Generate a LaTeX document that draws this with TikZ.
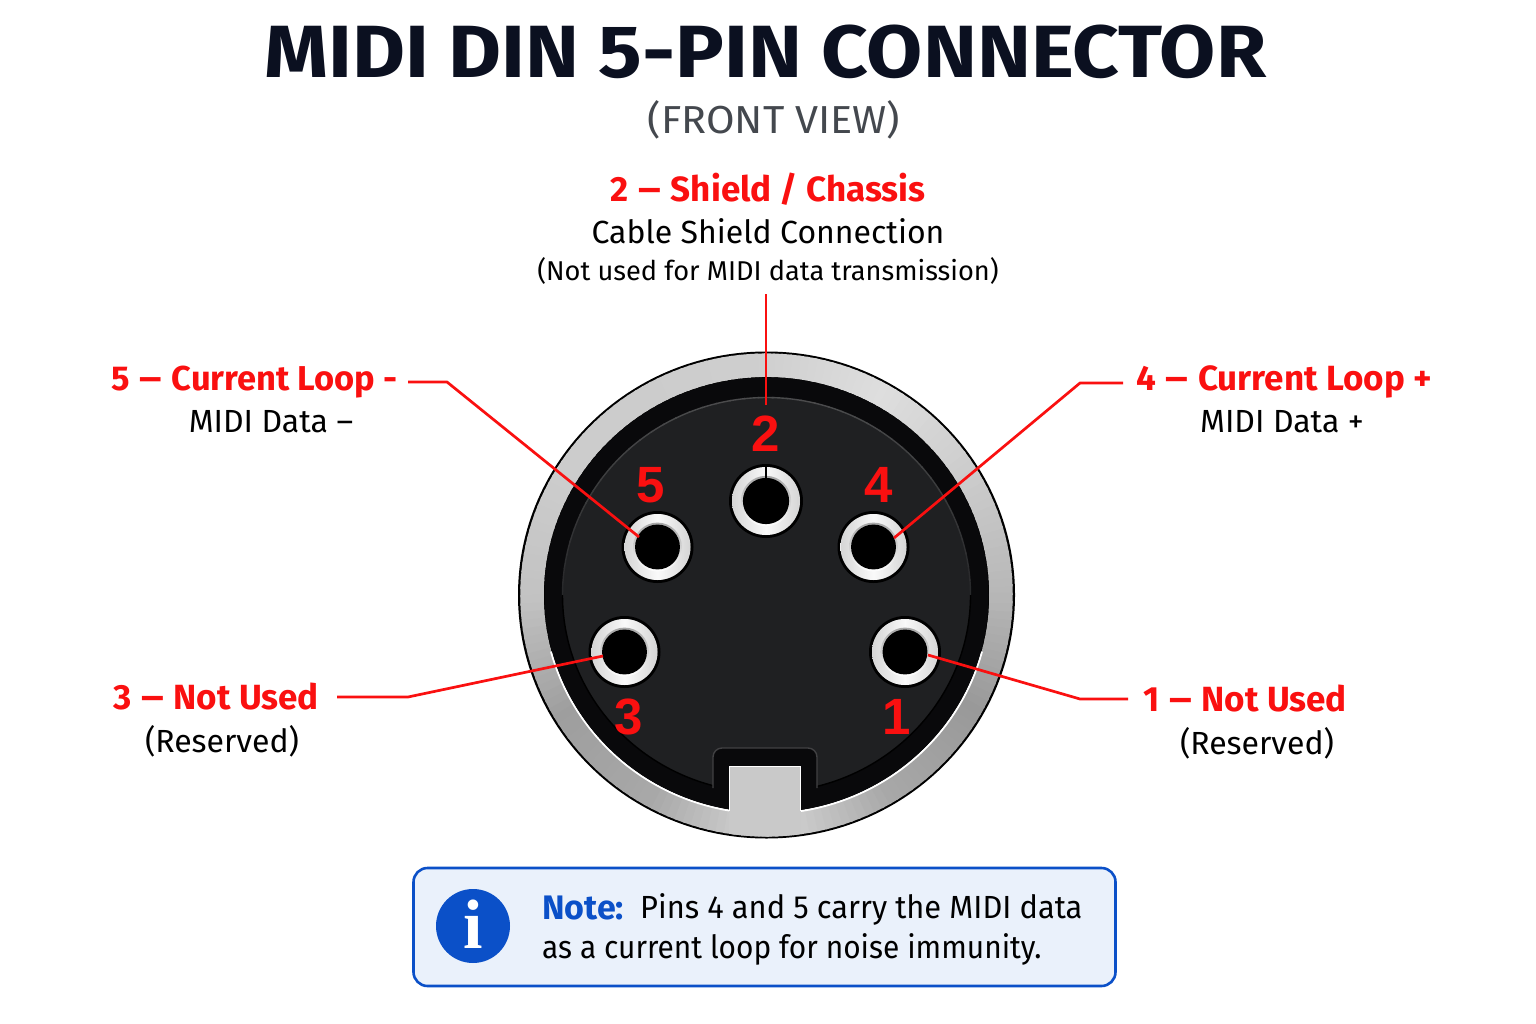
\documentclass[tikz,border=0pt]{standalone}
\usepackage{fontspec}
\usepackage{graphicx}
\setmainfont{Fira Sans}
\definecolor{pinred}{HTML}{FA1010}
\definecolor{ink}{HTML}{0B1020}
\definecolor{sub}{HTML}{44484E}
\definecolor{notebl}{HTML}{0B50C8}
\definecolor{notebg}{HTML}{EAF1FB}
\definecolor{face}{HTML}{1F2022}
\definecolor{rim}{HTML}{09090B}
\tikzset{
  leader/.style={draw=pinred,line width=2.7pt,line join=round},
  head/.style={font=\fontsize{35}{40}\selectfont\bfseries,text=pinred,inner sep=0pt,anchor=center},
  body/.style={font=\fontsize{32}{36}\selectfont,text=black,inner sep=0pt,anchor=center},
  small/.style={font=\fontsize{27.2}{32}\selectfont,text=black,inner sep=0pt,anchor=center},
  pinnum/.style={font=\fontsize{51}{51}\fontspec{Liberation Sans}\bfseries,text=pinred,inner sep=0pt,anchor=center},
  notetxt/.style={font=\fontsize{32}{36}\selectfont,text=black,inner sep=0pt,anchor=west},
}
\newcommand{\dsh}{\hspace{.28em}\scalebox{1.25}[1]{–}\hspace{.28em}}
\newcommand{\pinsock}[4]{% name, x, y, metal radius
  \fill[black] (#2,-#3) circle[radius=#4+3];
  \shade[shading=axis,shading angle=0,top color=gray!5,middle color=gray!45,bottom color=gray!3] (#2,-#3) circle[radius=#4];
  \shade[left color=gray!75,right color=gray!75,middle color=gray!5,opacity=.4] (#2,-#3) circle[radius=#4];
  \shade[top color=gray!70,bottom color=white] (#2,-#3) circle[radius=#4*0.74];
  \node[circle,fill=black,minimum size=#4*1.36,inner sep=0pt] (#1) at (#2,-#3) {};
}
\begin{document}
\begin{tikzpicture}[x=1pt,y=1pt]
\useasboundingbox (0,0) rectangle (1536,-1024);
\fill[white] (0,0) rectangle (1536,-1024);
% titles
\node[font=\fontsize{74}{80}\selectfont\bfseries,text=ink,inner sep=0pt] (title) at (765.5,-52) {\scalebox{1.1}[1]{MIDI DIN 5-PIN CONNECTOR}};
\node[font=\fontsize{39}{40}\selectfont,text=sub,inner sep=0pt] (subtitle) at (774,-120) {\scalebox{1.06}[1]{(FRONT VIEW)}};
% connector body
\begin{scope}[shift={(766.5,-595)}]
  \fill[black] (0,0) ellipse[x radius=248.5,y radius=243.5];
  \begin{scope}[yscale=0.98]
    \foreach \a in {0,2,...,358}{
      \pgfmathsetmacro{\ii}{int(floor(\a/30))}
      \pgfmathsetmacro{\jj}{int(mod(\ii+1,12))}
      \pgfmathsetmacro{\ff}{(\a-30*\ii)/30}
      \pgfmathsetmacro{\ga}{{.72,.80,.87,.81,.80,.80,.76,.62,.66,.84,.66,.60}[\ii]}
      \pgfmathsetmacro{\gb}{{.72,.80,.87,.81,.80,.80,.76,.62,.66,.84,.66,.60}[\jj]}
      \pgfmathsetmacro{\g}{\ga+(\gb-\ga)*\ff}
      \definecolor{seg}{gray}{\g}
      \draw[seg,line width=23.5pt] (\a:234.5) arc[start angle=\a,end angle=\a+2.6,radius=234.5];
    }
    \draw[white,line width=2pt] (-15:223) arc[start angle=-15,end angle=-165,radius=223];
  \end{scope}
  \fill[rim] (0,0) ellipse[x radius=222,y radius=217.5];
  \fill[face] (0,0) ellipse[x radius=204,y radius=197.5];
  \foreach \a in {0,4,...,176}{
    \pgfmathsetmacro{\m}{8+38*sin(\a+2)}
    \colorlet{edgec}{gray!\m!face}
    \draw[edgec,line width=1.4pt] (\a:204 and 197.5) arc[start angle=\a,end angle=\a+4.5,x radius=204,y radius=197.5];
  }
  \draw[black,line width=1.4pt] (180:204 and 197.5) arc[start angle=180,end angle=360,x radius=204,y radius=197.5];
\end{scope}
% key recess
\fill[rim] (714,-790) rectangle (816,-805);
\fill[rim,draw=gray!35!face,line width=1.4pt,rounded corners=9pt] (713,-788) -- (713,-748) -- (817,-748) -- (817,-788);
\fill[rim] (714,-786) rectangle (816,-790);
% key tab
\begin{scope}
  \clip (766.5,-595) ellipse[x radius=246.5,y radius=241.5];
  \shade[left color=gray!42,middle color=gray!20,right color=gray!42] (729.5,-767) rectangle (800.5,-840);
\end{scope}
\draw[white,line width=1.8pt] (729.5,-810.5) -- (729.5,-766.5) -- (800.5,-766.5) -- (800.5,-810.5);
% pins
\pinsock{p2}{766}{501}{34}
\pinsock{p5}{657.5}{547}{33}
\pinsock{p4}{873.5}{547}{33}
\pinsock{p3}{624.5}{652}{33}
\pinsock{p1}{905}{652}{33}
% pin numbers
\node[pinnum] (n2) at (766,-434) {2};
\node[pinnum] (n5) at (651,-485) {5};
\node[pinnum] (n4) at (879,-485) {4};
\node[pinnum] (n3) at (629,-717) {3};
\node[pinnum] (n1) at (897,-717) {1};
% labels
\node[head] (l2) at (768,-189) {2\dsh Shield / Chassis};
\node[body] (l2a) at (768,-231) {Cable Shield Connection};
\node[small] (l2b) at (768,-270.5) {(Not used for MIDI data transmission)};
\node[head,anchor=east,font=\fontsize{34.5}{40}\selectfont\bfseries] (l5) at (398,-382) {5\dsh Current Loop -};
\node[body] (l5a) at (271,-422) {MIDI Data –};
\node[head,anchor=west] (l4) at (1136,-382) {4\dsh Current Loop +};
\node[body] (l4a) at (1282,-422) {MIDI Data +};
\node[head] (l3) at (216,-697) {3\dsh Not Used};
\node[body] (l3a) at (222,-741) {(Reserved)};
\node[head] (l1) at (1245,-699) {1\dsh Not Used};
\node[body] (l1a) at (1257,-743) {(Reserved)};
% leaders
\coordinate (c2a) at (766,-294);
\coordinate (c2b) at (766,-405);
\coordinate (c5a) at (408,-382);
\coordinate (c5b) at (447,-382);
\coordinate (c5c) at (639,-537);
\coordinate (c4a) at (1123,-383);
\coordinate (c4b) at (1080,-383);
\coordinate (c4c) at (894,-538);
\coordinate (c3a) at (337,-697);
\coordinate (c3b) at (408,-697);
\coordinate (c3c) at (603,-656);
\coordinate (c1a) at (1128,-699);
\coordinate (c1b) at (1080,-699);
\coordinate (c1c) at (928,-655);
\draw[leader] (c2a) -- (c2b);
\draw[leader] (c5a) -- (c5b) -- (c5c);
\draw[leader] (c4a) -- (c4b) -- (c4c);
\draw[leader] (c3a) -- (c3b) -- (c3c);
\draw[leader] (c1a) -- (c1b) -- (c1c);
\draw[black,line width=1.4pt] (766,-466) -- (766,-479);
% note
\node[draw=notebl,fill=notebg,line width=2.6pt,rounded corners=14pt,minimum width=702pt,minimum height=118pt,inner sep=0pt] (note) at (764.5,-927) {};
\node[circle,fill=notebl,minimum size=74pt,inner sep=0pt] (info) at (473,-926) {};
\node[font=\fontsize{70}{70}\fontspec{Liberation Serif}\bfseries,text=white,inner sep=0pt] (infoi) at (473,-924) {i};
\node[notetxt,font=\fontsize{34}{36}\selectfont\bfseries,text=notebl] (n1a) at (542,-908) {Note:};
\node[notetxt] (n1c) at (640,-909) {\scalebox{.963}[1]{Pins 4 and 5 carry the MIDI data}};
\node[notetxt] (n1b) at (542,-949) {\scalebox{.933}[1]{as a current loop for noise immunity.}};
\end{tikzpicture}
\end{document}
